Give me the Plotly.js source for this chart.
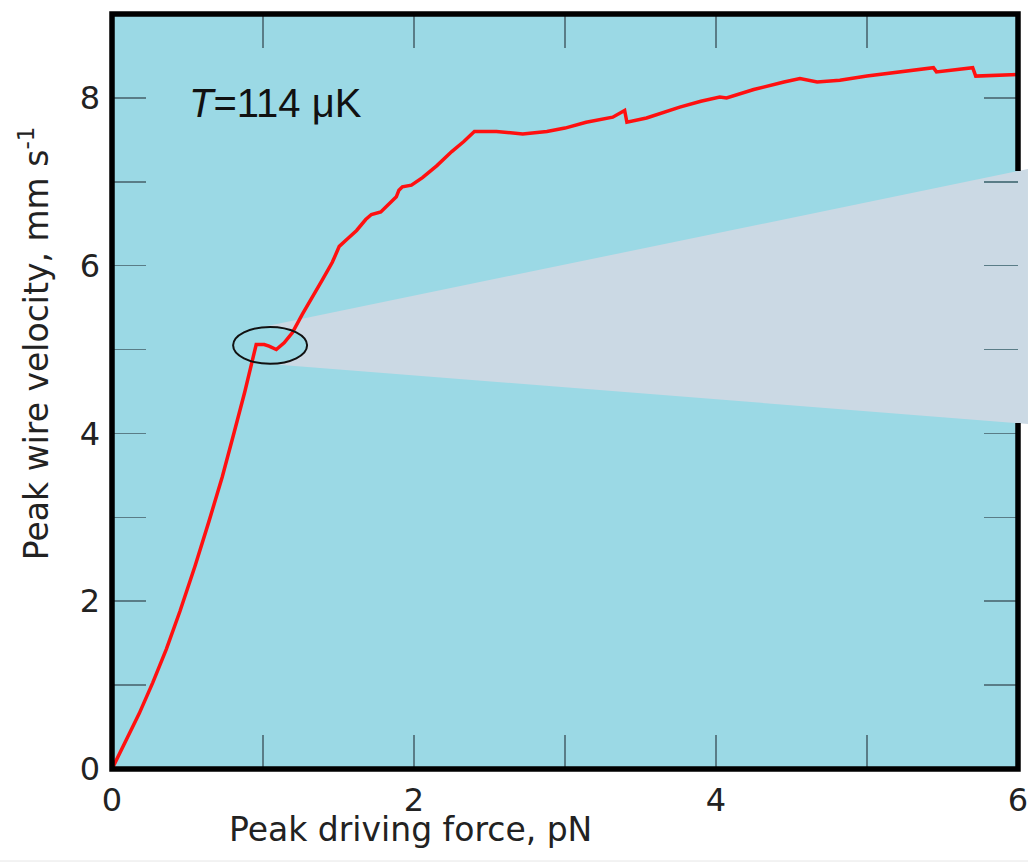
<!DOCTYPE html>
<html>
<head>
<meta charset="utf-8">
<script src="https://cdn.plot.ly/plotly-3.0.1.min.js"></script>
<style>html,body{margin:0;padding:0;background:#fff;}#chart{width:1028px;height:862px;}</style>
</head>
<body>
<div id="chart"></div>
<script>
// Peak driving force (pN)
const force = [0, 0.09, 0.18, 0.27, 0.36, 0.45, 0.55, 0.64, 0.73, 0.81, 0.88, 0.955, 1.008, 1.04, 1.088, 1.14, 1.194, 1.26, 1.32, 1.393, 1.459, 1.505, 1.56, 1.62, 1.68, 1.718, 1.78, 1.84, 1.883, 1.90, 1.923, 1.983, 2.056, 2.15, 2.25, 2.33, 2.40, 2.546, 2.62, 2.72, 2.88, 3.00, 3.14, 3.316, 3.395, 3.41, 3.54, 3.76, 3.90, 4.025, 4.07, 4.25, 4.45, 4.556, 4.67, 4.82, 5.0, 5.2, 5.44, 5.46, 5.70, 5.72, 5.85, 6.0];
// Peak wire velocity (mm s^-1)
const velocity = [0, 0.33, 0.66, 1.03, 1.43, 1.88, 2.42, 2.94, 3.48, 4.02, 4.50, 5.06, 5.06, 5.04, 5.00, 5.08, 5.20, 5.42, 5.60, 5.83, 6.04, 6.23, 6.32, 6.42, 6.55, 6.61, 6.64, 6.74, 6.82, 6.90, 6.94, 6.96, 7.05, 7.19, 7.36, 7.48, 7.60, 7.60, 7.59, 7.57, 7.60, 7.64, 7.71, 7.77, 7.85, 7.71, 7.76, 7.89, 7.96, 8.01, 8.00, 8.10, 8.19, 8.23, 8.19, 8.21, 8.26, 8.31, 8.36, 8.31, 8.36, 8.26, 8.27, 8.28];

const xTickVals = [0, 2, 4, 6];
const yTickVals = [0, 2, 4, 6, 8];
const xRange = [0, 6];
const yRange = [0, 9];

// callout ellipse (data units) around the kink
const ell = {cx: 1.047, cy: 5.05, rx: 0.245, ry: 0.22};

const bg = '#9bd9e5';
const wedge = '#cbd9e4';
const tickCol = '#5a7d87';
const font = 'DejaVu Sans, sans-serif';

// build wedge path in paper coordinates
function px(x) { return (x - xRange[0]) / (xRange[1] - xRange[0]); }
function py(y) { return (y - yRange[0]) / (yRange[1] - yRange[0]); }
let pts = [];
for (let a = 112; a >= -100; a -= 8) {
  const t = a * Math.PI / 180;
  pts.push([px(ell.cx + ell.rx * Math.cos(t)), py(ell.cy + ell.ry * Math.sin(t))]);
}
const rightX = 1.011;
pts.push([rightX, 0.457]);
pts.push([rightX, 0.7947]);
const wedgePath = 'M ' + pts.map(p => p[0].toFixed(4) + ',' + p[1].toFixed(4)).join(' L ') + ' Z';

const shapes = [
  {type: 'path', xref: 'paper', yref: 'paper', path: wedgePath, fillcolor: wedge, line: {width: 0}, layer: 'below'},
  {type: 'circle', xref: 'x', yref: 'y', x0: ell.cx - ell.rx, x1: ell.cx + ell.rx, y0: ell.cy - ell.ry, y1: ell.cy + ell.ry,
   line: {color: '#111', width: 2}, layer: 'above'},
  // frame: right side interrupted by the wedge
  {type: 'path', xref: 'paper', yref: 'paper', path: 'M 1,0.7921 L 1,1 L 0,1 L 0,0 L 1,0 L 1,0.4583',
   line: {color: '#000', width: 5.5}, fillcolor: 'rgba(0,0,0,0)', layer: 'above'},
  {type: 'line', xref: 'paper', yref: 'paper', x0: -0.124, x1: 1.02, y0: -0.1219, y1: -0.1219,
   line: {color: '#e6e6e6', width: 1}, layer: 'above'}
];

const data = [{
  x: force, y: velocity, type: 'scatter', mode: 'lines',
  line: {color: '#ff1010', width: 3.5}, hoverinfo: 'skip'
}];

const axisCommon = {
  showgrid: false, zeroline: false, showline: false,
  ticks: 'inside', ticklen: 34, tickwidth: 1.5, tickcolor: tickCol, mirror: 'ticks',
  ticklabeloverflow: 'allow',
  tickfont: {family: font, size: 32, color: '#222'},
  minor: {dtick: 1, ticks: 'inside', ticklen: 34, tickwidth: 1.5, tickcolor: tickCol, showgrid: false}
};

const layout = {
  width: 1028, height: 862,
  margin: {l: 112, r: 10, t: 14, b: 93},
  paper_bgcolor: '#ffffff', plot_bgcolor: bg,
  showlegend: false,
  xaxis: Object.assign({}, axisCommon, {range: xRange, tickvals: xTickVals, ticktext: xTickVals.map(String), ticklabelstandoff: 9}),
  yaxis: Object.assign({}, axisCommon, {range: yRange, tickvals: yTickVals, ticktext: yTickVals.map(String), ticklabelstandoff: 11}),
  shapes: shapes,
  annotations: [
    {xref: 'paper', yref: 'paper', x: 0.330, y: -0.0805, xanchor: 'center', yanchor: 'middle', showarrow: false,
     text: 'Peak driving force, pN', font: {family: font, size: 33, color: '#222'}},
    {xref: 'paper', yref: 'paper', x: -0.0861, y: 0.564, xanchor: 'center', yanchor: 'middle', showarrow: false, textangle: -90,
     text: 'Peak wire velocity, mm s<sup>-1</sup>', font: {family: font, size: 33, color: '#222'}},
    {xref: 'paper', yref: 'paper', x: 0.18, y: 0.882, xanchor: 'center', yanchor: 'middle', showarrow: false,
     text: '<i>T</i>=114 μK', font: {family: 'Liberation Sans, Arial, sans-serif', size: 40, color: '#111'}}
  ]
};

Plotly.newPlot('chart', data, layout, {displayModeBar: false, staticPlot: true});
</script>
</body>
</html>
